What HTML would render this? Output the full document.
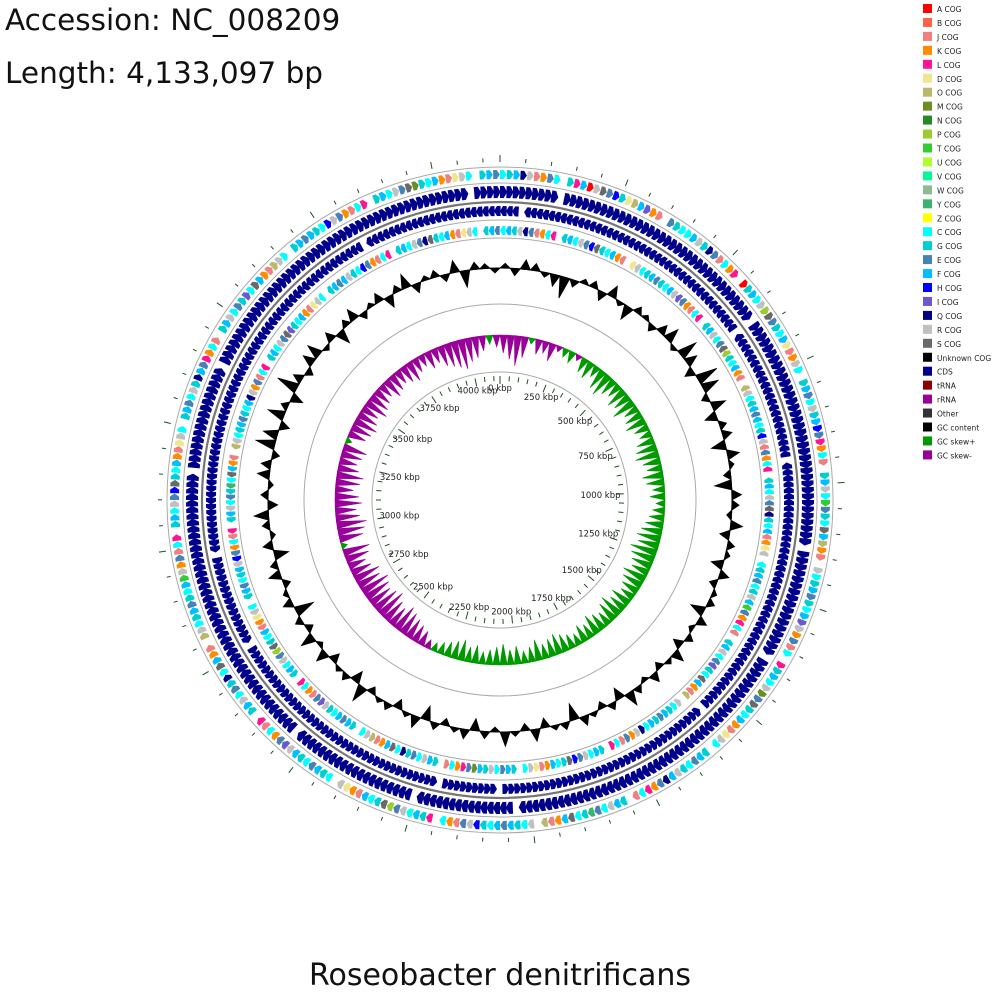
<!DOCTYPE html>
<html><head><meta charset="utf-8">
<style>
html,body{margin:0;padding:0;background:#fff;}
body{width:1000px;height:1000px;position:relative;overflow:hidden;font-family:"DejaVu Sans","Liberation Sans",sans-serif;}
.t{position:absolute;color:#111;white-space:nowrap;}
</style></head>
<body>
<div class="t" style="left:5px;top:3px;font-size:29.5px;">Accession: NC_008209</div>
<div class="t" style="left:5px;top:56px;font-size:29.5px;">Length: 4,133,097 bp</div>
<div class="t" style="left:0;width:1000px;text-align:center;top:958px;font-size:30px;">Roseobacter denitrificans</div>
<svg id="map" width="1000" height="1000" style="position:absolute;left:0;top:0" xmlns="http://www.w3.org/2000/svg"></svg>
<script>
// ---- data ----
const genomeLength = 4133097;
const legendLabels = ["A COG","B COG","J COG","K COG","L COG","D COG","O COG","M COG","N COG","P COG","T COG","U COG","V COG","W COG","Y COG","Z COG","C COG","G COG","E COG","F COG","H COG","I COG","Q COG","R COG","S COG","Unknown COG","CDS","tRNA","rRNA","Other","GC content","GC skew+","GC skew-"];
const legendColors = ["#ff0000","#ff6347","#f08080","#ff8c00","#ff1493","#f0e68c","#bdb76b","#6b8e23","#228b22","#9acd32","#32cd32","#adff2f","#00fa9a","#8fbc8f","#3cb371","#ffff00","#00ffff","#00ced1","#4682b4","#00bfff","#0000ff","#6a5acd","#000080","#c0c0c0","#696969","#000000","#00008b","#8b0000","#990099","#333333","#000000","#009900","#990099"];
const cogFwd = "CGFQRJKEC.GLFARSEHGDOFIKJ.EGCC"+"FRGQEJCKL.AGFCRPSEGCFDJKRC.GFE"+"CRGFHELKCJ.GFRCTEGCSFOKJ.RCGFE"+"GCFIRKEJC.LGFCRMESGCFKJDRC.GFE"+"CGRFQEKLCJ.GFRCEYGCSFKJO.RCGFE"+"FCGHREJKC.LGFCREPSGCFJKDR.CGFE"+"CGFRIEKCJL.GFRCEGQCSFKJ.ORCGFE"+"GCFTRKEJCL.GFCREHSGCFKJDRC.GFE"+"CRGQFELKCJ.GFRCEGICSFKJORC.GFE"+"FGCHREKJCL.GFCRESMGCFKJDRC.GFE";
const cogRev = "CFGRQEJKCL.GFCREHSGCFKJ.DRCGFE"+"GCFRIEKJCL.GFRCESPGCFKJ.ORCGFE"+"FCGHRJEKCL.GFCRESQGCFJKDR.CGFE"+"CGRFTEKLCJ.GFRCEIGCSFKJO.RCGFE"+"GFCQRKEJCL.GFCREHSGCFKJDRC.GFE"+"CRGFMELKCJ.GFRCEGQCSFKJORC.GFE"+"FCGRIEJKCL.GFCREPSGCFJKDRC.GFE"+"CGFRHEKCJL.GFRCEGYCSFKJ.ORCGFE"+"GCFQRKEJCL.GFCRESIGCFKJDRC.GFE"+"FRGCHEKJCL.GFCREQSGCFKJDRC.GFE";
const cdsFwd = "#########.####################"+"###############.##############"+"######################.#######"+"##########.###################"+"###########################.##"+"#############.################"+"####.#########################"+"###################.##########"+"######.#######################"+"#########################.####";
const cdsRev = "###.###########################"+"##############.###############"+"#######.######################"+"######################.#######"+"#############################."+"#########.####################"+"###################.##########"+"#####.########################"+"##############################"+"######.#######################";
const gcContent = [0.2,-0.3,0.4,0.3,-0.2,-0.5,-0.9,-0.3,0.2,0.3,-0.4,0.5,-0.2,-0.6,0.3,0.2,-0.3,0.4,0.6,-0.2,0.8,0.5,-0.4,0.9,0.7,-0.3,0.6,-0.5,0.3,0.4,-0.6,0.5,0.2,-0.3,-0.7,0.4,0.3,-0.2,0.5,-0.4,0.3,0.2,-0.5,0.4,-0.3,0.2,0.3,-0.6,0.4,-0.2,0.3,-0.4,0.5,0.2,-0.3,0.4,-0.2,0.3,0.6,-0.5,0.3,-0.3,0.2,0.4,-0.7,0.3,0.2,-0.4,0.5,-0.3,0.2,0.6,-0.2,0.3,-0.5,0.4,0.2,-0.3,0.3,-0.6,0.5,0.2,-0.4,0.3,0.2,-0.3,0.7,-0.5,0.3,0.2,-0.4,0.5,-0.2,0.6,-0.3,0.3,-0.8,0.4,0.2,-0.3,0.5,0.3,-0.6,0.4,-0.2,0.3,0.6,-0.4,0.3,-0.2,0.5,0.4,-0.3,0.8,0.6,-0.4,0.7,0.3,-0.5,0.9,0.4,-0.3,0.5,0.6,-0.2,0.4,-0.6,0.3,0.5,-0.3,0.2,0.4,-0.5,0.3,0.6,-0.4,0.2,0.3,-0.3,0.5,-0.7,0.3,0.2,-0.2];
const gcSkew = [-0.6,-0.8,-1.0,-0.7,0.2,-0.5,-0.4,-0.6,-0.2,0.3,0.4,-0.2,0.5,0.6,0.4,0.7,0.8,0.6,0.5,0.7,0.6,0.8,0.5,0.6,0.7,0.5,0.4,0.6,0.7,0.8,0.6,0.5,0.7,0.6,0.4,0.5,0.3,0.4,0.5,0.6,0.7,0.8,0.7,0.9,0.8,0.7,0.6,0.8,0.7,0.6,0.5,0.7,0.6,0.8,0.7,0.5,0.6,0.7,0.5,0.6,0.4,0.5,0.6,0.7,0.6,0.5,0.7,0.5,0.4,0.6,0.5,0.7,0.6,0.5,0.4,0.6,0.5,0.7,0.6,0.5,0.4,0.3,-0.3,-0.5,-0.6,-0.7,-0.8,-0.9,-0.7,-0.8,-1.0,-0.9,-0.8,-0.9,-1.0,-0.8,-0.9,-0.7,-0.6,-0.8,-0.9,0.2,-0.8,-0.9,-1.0,-0.8,-0.7,-0.9,-0.8,-0.6,-0.8,-0.9,-0.7,-0.6,-0.7,-0.8,0.2,-0.6,-0.7,-0.8,-0.7,-0.6,-0.8,-0.7,-0.6,-0.5,-0.7,-0.6,-0.5,-0.6,-0.7,-0.5,-0.4,-0.6,-0.5,-0.7,-0.8,-0.9,-1.0,-0.8,-0.7,-0.5,0.3,-0.4];
const labelKbp = [0,250,500,750,1000,1250,1500,1750,2000,2250,2500,2750,3000,3250,3500,3750,4000];

// ---- drawing ----
const NS="http://www.w3.org/2000/svg";
const svg=document.getElementById('map');
const CX=500, CY=500;
const colorOf = {};
legendLabels.forEach((l,i)=>{ if(l.endsWith(" COG") && l.length===5) colorOf[l[0]]=legendColors[i]; });
function ang(bp){ return bp/genomeLength*2*Math.PI; }
function pt(a,r){ return [CX+r*Math.sin(a), CY-r*Math.cos(a)]; }
function ps(p){ return p.map(q=>q[0].toFixed(1)+","+q[1].toFixed(1)).join(" "); }
function mk(tag,attrs,parent){ const e=document.createElementNS(NS,tag); for(const k in attrs) e.setAttribute(k,attrs[k]); (parent||svg).appendChild(e); return e; }

const rings=[[333,"#aaa",1],[317,"#aaa",1],[298,"#777",2.2],[280,"#aaa",1],[262,"#aaa",1],[196,"#aaa",1],[128,"#aaa",1]];
rings.forEach(function(c){
  const e=mk('circle',{cx:CX,cy:CY,r:c[0],fill:"none",stroke:c[1],'stroke-width':c[2]});
  
  
});

function arrow(a0,a1,r0,r1,dir,color,g){
  const tip=Math.min((a1-a0)*0.45, 5/((r0+r1)/2));
  const rm=(r0+r1)/2;
  let p;
  if(dir>0){ p=[pt(a0,r0),pt(a0,r1),pt(a1-tip,r1),pt(a1,rm),pt(a1-tip,r0)]; }
  else { p=[pt(a1,r0),pt(a1,r1),pt(a0+tip,r1),pt(a0,rm),pt(a0+tip,r0)]; }
  return mk('polygon',{points:ps(p),fill:color},g);
}
function geneRing(str,r0,r1,dir,isCds,name){
  const g=mk('g',{});
  
  
  const n=str.length, step=2*Math.PI/n;
  for(let i=0;i<n;i++){
    const ch=str[i]; if(ch==='.') continue;
    const col=isCds?"#00008b":(colorOf[ch]||"#000");
    const e=arrow(i*step,(i+1)*step+(isCds?0.002:-step*0.05),r0,r1,dir,col,g);
    
    
  }
}
geneRing(cogFwd,321,330,1,false,'forward-cog-ring');
geneRing(cdsFwd,302,314,1,true,'forward-cds-ring');
geneRing(cdsRev,284,294,-1,true,'reverse-cds-ring');
geneRing(cogRev,265,274,-1,false,'reverse-cog-ring');

// GC content
(function(){
  const base=232, scale=24, n=gcContent.length;
  const g=mk('g',{});
  
  
  for(let i=0;i<n;i++){
    const a0=i/n*2*Math.PI, a1=(i+1)/n*2*Math.PI, am=(a0+a1)/2;
    const p=[pt(a0,base),pt(am,base+gcContent[i]*scale),pt(a1,base)];
    const e=mk('polygon',{points:ps(p),fill:"#000",stroke:"#000",'stroke-width':0.8},g);
    
    
  }
  mk('circle',{cx:CX,cy:CY,r:base,fill:"none",stroke:"#000",'stroke-width':1},g);
})();

// GC skew
(function(){
  const base=165, scale=30, n=gcSkew.length;
  const g=mk('g',{});
  
  
  for(let i=0;i<n;i++){
    const a0=i/n*2*Math.PI, a1=(i+1)/n*2*Math.PI, am=(a0+a1)/2;
    const v=gcSkew[i];
    const p=[pt(a0,base),pt(am,base-Math.abs(v)*scale),pt(a1,base)];
    const col=v>=0?"#009900":"#990099";
    const e=mk('polygon',{points:ps(p),fill:col,stroke:col,'stroke-width':0.6},g);
    
    
  }
})();

// ticks
(function(){
  const g=mk('g',{stroke:"#1f4f1f",'stroke-width':1});
  
  
  for(let k=0;k*50000<genomeLength;k++){
    const a=ang(k*50000), major=(k%5===0);
    let p0=pt(a,338), p1=pt(a,major?345:342);
    mk('line',{x1:p0[0],y1:p0[1],x2:p1[0],y2:p1[1]},g);
    p0=pt(a,124); p1=pt(a,major?116:119);
    mk('line',{x1:p0[0],y1:p0[1],x2:p1[0],y2:p1[1]},g);
  }
  labelKbp.forEach(function(kb){
    const a=ang(kb*1000);
    const r=100+12*Math.abs(Math.cos(a));
    const p=pt(a,r);
    const t=mk('text',{x:p[0].toFixed(1),y:(p[1]+3).toFixed(1),'text-anchor':'middle','font-size':8.5,fill:"#222",'font-family':'"DejaVu Sans","Liberation Sans",sans-serif'});
    t.textContent=kb+" kbp";
    
    
  });
})();

// legend
(function(){
  const g=mk('g',{});
  
  
  legendLabels.forEach(function(l,i){
    const y=4+i*13.95;
    const r=mk('rect',{x:923,y:y,width:9,height:9,fill:legendColors[i]},g);
    
    
    const t=mk('text',{x:937,y:y+8,'font-size':7.5,fill:"#222",'font-family':'"DejaVu Sans","Liberation Sans",sans-serif'},g);
    t.textContent=l;
    
    
  });
})();
</script>
</body></html>
